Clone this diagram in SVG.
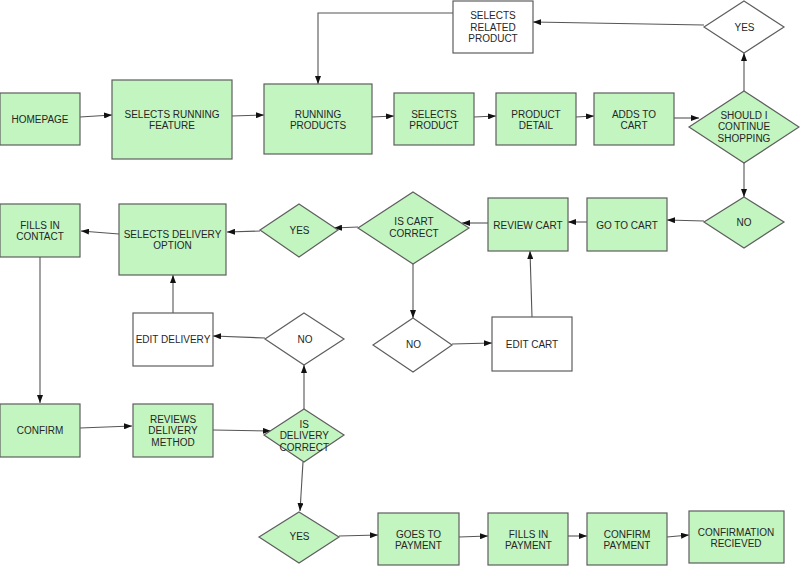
<svg xmlns="http://www.w3.org/2000/svg" width="800" height="566" viewBox="0 0 800 566">
<style>
.g{fill:#c2f5c0;stroke:#5e5e5e;stroke-width:1.2}
.w{fill:#ffffff;stroke:#5e5e5e;stroke-width:1.2}
text{font-family:"Liberation Sans",Arial,Helvetica,sans-serif;font-size:10px;fill:#262626;text-anchor:middle;dominant-baseline:central}
.c path{fill:none;stroke:#555;stroke-width:1.1;marker-end:url(#a)}
</style>
<defs>
<marker id="a" viewBox="0 0 8 6" refX="8" refY="3" markerWidth="8" markerHeight="6" orient="auto" markerUnits="userSpaceOnUse">
<path d="M0,0 L8,3 L0,6 z" fill="#111"/>
</marker>
</defs>
<rect width="800" height="566" fill="#ffffff"/>
<g class="c" id="connectors">
<path d="M80,117 L112,115"/>
<path d="M232,116 L264,115"/>
<path d="M372,117 L394,116"/>
<path d="M474,117 L496,116"/>
<path d="M576,117 L594,116"/>
<path d="M674,118 L699,118"/>
<path d="M744,91 L744,53"/>
<path d="M704,25 L533,22"/>
<path d="M453,13 L318,13 L318,84"/>
<path d="M744,163 L744,197"/>
<path d="M704,221 L667,220"/>
<path d="M587,222 L568,222"/>
<path d="M488,223 L462,223"/>
<path d="M358,227 L334,228"/>
<path d="M260,231 L227,232"/>
<path d="M119,234 L81,231"/>
<path d="M413,264 L413,318"/>
<path d="M452,344 L492,343"/>
<path d="M532,317 L530,251"/>
<path d="M40,257 L40,403"/>
<path d="M80,428 L132,426"/>
<path d="M213,430 L271,431"/>
<path d="M304,409 L304,365"/>
<path d="M265,338 L213,336"/>
<path d="M173,313 L173,275"/>
<path d="M303,462 L300,511"/>
<path d="M339,536 L378,535"/>
<path d="M459,537 L488,536"/>
<path d="M568,536 L587,536"/>
<path d="M667,537 L689,535"/>
</g>
<g id="homepage"><rect class="g" x="0" y="93" width="80" height="52"/><text x="40" y="119">HOMEPAGE</text></g>
<g id="selects-running-feature"><rect class="g" x="112" y="80" width="120" height="79"/><text x="172" y="114">SELECTS RUNNING</text><text x="172" y="125.7">FEATURE</text></g>
<g id="running-products"><rect class="g" x="264" y="84" width="108" height="70"/><text x="318" y="114">RUNNING</text><text x="318" y="125.7">PRODUCTS</text></g>
<g id="selects-related-product"><rect class="w" x="453" y="1" width="80" height="52"/><text x="493" y="15">SELECTS</text><text x="493" y="27">RELATED</text><text x="493" y="38.5">PRODUCT</text></g>
<g id="yes-top"><polygon class="w" points="744,1 784,27 744,53 704,27"/><text x="744.5" y="27">YES</text></g>
<g id="selects-product"><rect class="g" x="394" y="93" width="80" height="52"/><text x="434" y="114">SELECTS</text><text x="434" y="125.7">PRODUCT</text></g>
<g id="product-detail"><rect class="g" x="496" y="93" width="80" height="52"/><text x="536" y="114">PRODUCT</text><text x="536" y="125.7">DETAIL</text></g>
<g id="adds-to-cart"><rect class="g" x="594" y="93" width="80" height="52"/><text x="634" y="114">ADDS TO</text><text x="634" y="125.7">CART</text></g>
<g id="should-continue"><polygon class="g" points="744,91 799,127 744,163 689,127"/><text x="744" y="115">SHOULD I</text><text x="744" y="126.5">CONTINUE</text><text x="744" y="138">SHOPPING</text></g>
<g id="no-shopping"><polygon class="g" points="744,197 784,222 744,248 704,222"/><text x="744" y="222">NO</text></g>
<g id="go-to-cart"><rect class="g" x="587" y="198" width="80" height="53"/><text x="627" y="225">GO TO CART</text></g>
<g id="review-cart"><rect class="g" x="488" y="198" width="80" height="53"/><text x="528" y="225">REVIEW CART</text></g>
<g id="is-cart-correct"><polygon class="g" points="413,192 469,228 413,264 358,228"/><text x="414" y="221.7">IS CART</text><text x="414" y="233.3">CORRECT</text></g>
<g id="yes-cart"><polygon class="g" points="299,204 338,230 299,257 260,230"/><text x="299.5" y="230.7">YES</text></g>
<g id="selects-delivery-option"><rect class="g" x="119" y="204" width="107" height="71"/><text x="172.5" y="234">SELECTS DELIVERY</text><text x="172.5" y="245.7">OPTION</text></g>
<g id="fills-in-contact"><rect class="g" x="0" y="204" width="80" height="53"/><text x="40" y="225">FILLS IN</text><text x="40" y="236.7">CONTACT</text></g>
<g id="edit-delivery"><rect class="w" x="133" y="313" width="80" height="53"/><text x="173" y="339.3">EDIT DELIVERY</text></g>
<g id="no-delivery"><polygon class="w" points="304,313 344,339 304,365 265,339"/><text x="305" y="339.3">NO</text></g>
<g id="no-cart"><polygon class="w" points="413,318 452,345 413,372 373,345"/><text x="413.5" y="344.3">NO</text></g>
<g id="edit-cart"><rect class="w" x="492" y="317" width="80" height="54"/><text x="532" y="344.3">EDIT CART</text></g>
<g id="confirm"><rect class="g" x="0" y="404" width="80" height="53"/><text x="40" y="430.7">CONFIRM</text></g>
<g id="reviews-delivery-method"><rect class="g" x="133" y="404" width="80" height="53"/><text x="173" y="419">REVIEWS</text><text x="173" y="430.7">DELIVERY</text><text x="173" y="442.3">METHOD</text></g>
<g id="is-delivery-correct"><polygon class="g" points="304,409 344,435 304,462 264,435"/><text x="304.3" y="424">IS</text><text x="304.3" y="435.7">DELIVERY</text><text x="304.3" y="447.3">CORRECT</text></g>
<g id="yes-delivery"><polygon class="g" points="299,512 339,537 299,563 259,537"/><text x="299.5" y="536.7">YES</text></g>
<g id="goes-to-payment"><rect class="g" x="378" y="513" width="81" height="52"/><text x="418.5" y="534.3">GOES TO</text><text x="418.5" y="545.7">PAYMENT</text></g>
<g id="fills-in-payment"><rect class="g" x="488" y="513" width="80" height="52"/><text x="528.5" y="534.3">FILLS IN</text><text x="528.5" y="545.7">PAYMENT</text></g>
<g id="confirm-payment"><rect class="g" x="587" y="513" width="80" height="52"/><text x="627" y="534.3">CONFIRM</text><text x="627" y="545.7">PAYMENT</text></g>
<g id="confirmation-recieved"><rect class="g" x="689" y="511" width="95" height="52"/><text x="736" y="532.3">CONFIRMATION</text><text x="736" y="543.3">RECIEVED</text></g>
</svg>
